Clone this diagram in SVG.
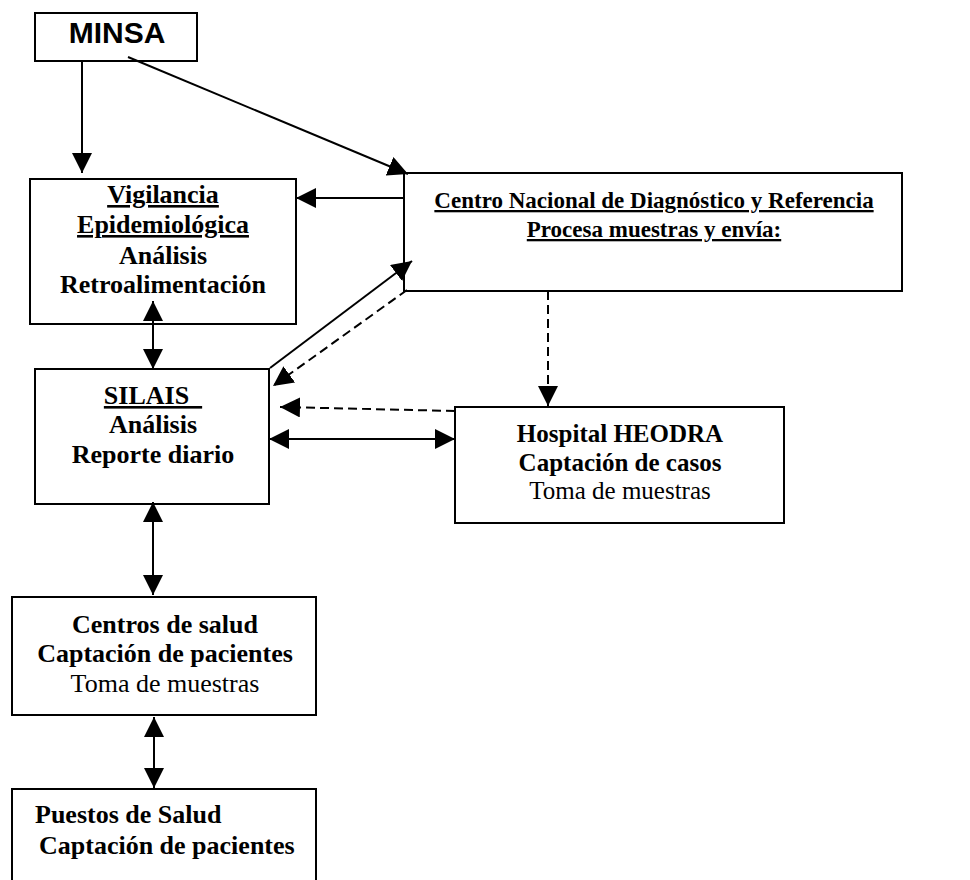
<svg xmlns="http://www.w3.org/2000/svg" width="970" height="880" viewBox="0 0 970 880">
<style>
.box{fill:#fff;stroke:#000;stroke-width:2}
.t{font-family:"Liberation Serif","Times New Roman",serif;font-weight:bold;fill:#000;text-anchor:middle}
.r{font-weight:normal}
.u{text-decoration:underline}
.c{stroke:#000;stroke-width:2;fill:none}
.d{stroke-dasharray:9 5}
</style>
<defs>
<marker id="ah" markerUnits="userSpaceOnUse" markerWidth="20" markerHeight="20" refX="20" refY="10" orient="auto-start-reverse" viewBox="0 0 20 20">
<path d="M0,0 L20,10 L0,20 z" fill="#000"/>
</marker>
</defs>
<rect width="970" height="880" fill="#fff"/>
<g id="minsa">
<rect class="box" x="35" y="13" width="162" height="48"/>
<text x="117" y="43" style="font-family:'Liberation Sans',Arial,sans-serif;font-weight:bold;font-size:30px" text-anchor="middle">MINSA</text>
</g>
<g id="vigilancia">
<rect class="box" x="30" y="179" width="266" height="145"/>
<text class="t u" x="163" y="203" font-size="26">Vigilancia</text>
<text class="t u" x="163" y="233" font-size="26">Epidemiológica</text>
<text class="t" x="163" y="264" font-size="26">Análisis</text>
<text class="t" x="163" y="293" font-size="26">Retroalimentación</text>
</g>
<g id="centro">
<rect class="box" x="404" y="173" width="498" height="118"/>
<text class="t u" x="654" y="208" font-size="23">Centro Nacional de Diagnóstico y Referencia</text>
<text class="t u" x="654" y="237" font-size="23">Procesa muestras y envía:</text>
</g>
<g id="silais">
<rect class="box" x="35" y="369" width="234" height="135"/>
<text class="t u" x="153" y="404" font-size="26" xml:space="preserve">SILAIS  </text>
<text class="t" x="153" y="433" font-size="26">Análisis</text>
<text class="t" x="153" y="463" font-size="26">Reporte diario</text>
</g>
<g id="hospital">
<rect class="box" x="455" y="407" width="329" height="116"/>
<text class="t" x="620" y="442" font-size="25">Hospital HEODRA</text>
<text class="t" x="620" y="471" font-size="25">Captación de casos</text>
<text class="t r" x="620" y="499" font-size="25">Toma de muestras</text>
</g>
<g id="centros">
<rect class="box" x="12" y="597" width="304" height="118"/>
<text class="t" x="165" y="633" font-size="26">Centros de salud</text>
<text class="t" x="165" y="662" font-size="26">Captación de pacientes</text>
<text class="t r" x="165" y="692" font-size="26">Toma de muestras</text>
</g>
<g id="puestos">
<rect class="box" x="12" y="789" width="304" height="100"/>
<text class="t" x="35" y="823" font-size="26" text-anchor="start" style="text-anchor:start">Puestos de Salud</text>
<text class="t" x="39" y="854" font-size="26" text-anchor="start" style="text-anchor:start">Captación de pacientes</text>
</g>
<g id="connectors">
<line class="c" x1="82" y1="61" x2="82" y2="173" marker-end="url(#ah)"/>
<line class="c" x1="128" y1="57" x2="408" y2="174" marker-end="url(#ah)"/>
<line class="c" x1="404" y1="198" x2="296" y2="198" marker-end="url(#ah)"/>
<line class="c" x1="153" y1="301" x2="153" y2="369" marker-start="url(#ah)" marker-end="url(#ah)"/>
<line class="c" x1="270" y1="368" x2="412" y2="261" marker-end="url(#ah)"/>
<line class="c d" x1="407" y1="290" x2="273" y2="386" marker-end="url(#ah)"/>
<line class="c d" x1="548" y1="291" x2="548" y2="406" marker-end="url(#ah)"/>
<line class="c d" x1="455" y1="411" x2="280" y2="407" marker-end="url(#ah)"/>
<line class="c" x1="269" y1="439" x2="455" y2="439" marker-start="url(#ah)" marker-end="url(#ah)"/>
<line class="c" x1="153" y1="502" x2="153" y2="595" marker-start="url(#ah)" marker-end="url(#ah)"/>
<line class="c" x1="154" y1="717" x2="154" y2="788" marker-start="url(#ah)" marker-end="url(#ah)"/>
</g>
</svg>
